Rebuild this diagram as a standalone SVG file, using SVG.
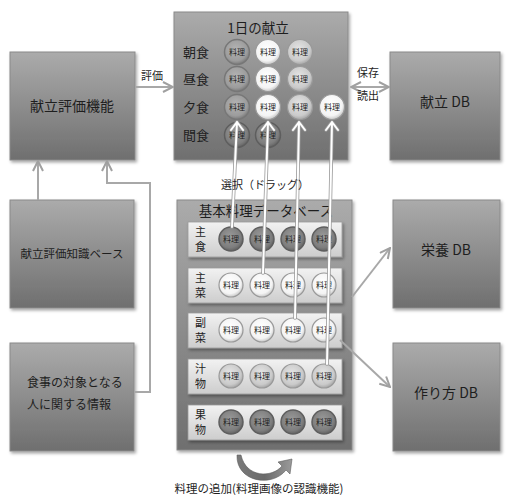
<svg xmlns="http://www.w3.org/2000/svg" width="510" height="495" viewBox="0 0 510 495">
<defs>
<linearGradient id="gBox" x1="0" y1="0" x2="0" y2="1">
<stop offset="0" stop-color="#ababab"/><stop offset="1" stop-color="#6f6f6f"/>
</linearGradient>
<linearGradient id="gRow" x1="0" y1="0" x2="0" y2="1">
<stop offset="0" stop-color="#f2f2f2"/><stop offset="1" stop-color="#cdcdcd"/>
</linearGradient>
<radialGradient id="gWhite" cx="0.45" cy="0.4" r="0.65">
<stop offset="0" stop-color="#ffffff"/><stop offset="0.7" stop-color="#f4f4f4"/><stop offset="1" stop-color="#b8b8b8"/>
</radialGradient>
<radialGradient id="gLight" cx="0.45" cy="0.4" r="0.65">
<stop offset="0" stop-color="#e6e6e6"/><stop offset="0.7" stop-color="#cacaca"/><stop offset="1" stop-color="#9a9a9a"/>
</radialGradient>
<radialGradient id="gMid" cx="0.45" cy="0.4" r="0.65">
<stop offset="0" stop-color="#b4b4b4"/><stop offset="0.7" stop-color="#9c9c9c"/><stop offset="1" stop-color="#6e6e6e"/>
</radialGradient>
<radialGradient id="gDark" cx="0.45" cy="0.4" r="0.65">
<stop offset="0" stop-color="#9a9a9a"/><stop offset="0.7" stop-color="#7e7e7e"/><stop offset="1" stop-color="#5a5a5a"/>
</radialGradient>
<linearGradient id="gCurve" x1="0" y1="0" x2="1" y2="0">
<stop offset="0" stop-color="#7a7a7a"/><stop offset="0.5" stop-color="#6a6a6a"/><stop offset="1" stop-color="#9a9a9a"/>
</linearGradient>
<filter id="sh" x="-10%" y="-10%" width="125%" height="125%">
<feDropShadow dx="1.5" dy="2" stdDeviation="1.5" flood-color="#000" flood-opacity="0.35"/>
</filter>
<marker id="ag" viewBox="0 0 12 12" refX="11" refY="6" markerWidth="12" markerHeight="12" markerUnits="userSpaceOnUse" orient="auto-start-reverse">
<path d="M1,1 L11,6 L1,11" fill="none" stroke="#a0a0a0" stroke-width="2"/>
</marker>
</defs>
<style>
.box{fill:url(#gBox);stroke:#8a8a8a;stroke-width:1;filter:url(#sh)}
.row{fill:url(#gRow);stroke:#9a9a9a;stroke-width:0.8;filter:url(#sh)}
.t{font-family:"Noto Sans CJK JP","Liberation Serif",serif;fill:#1e1e1e}
.bt{font-size:14px;text-anchor:middle}
.lb{font-size:11px}
.ck{font-size:8px;text-anchor:middle;fill:#222}
.cw{fill:url(#gWhite);stroke:#999;stroke-width:1.2}
.cl{fill:url(#gLight);stroke:#999;stroke-width:1.2}
.cm{fill:url(#gMid);stroke:#777;stroke-width:1.5}
.cd{fill:url(#gDark);stroke:#5e5e5e;stroke-width:1.5}
.gc{fill:none;stroke:#a8a8a8;stroke-width:2}
.wl{fill:none;stroke:#fff;stroke-width:2;stroke-linecap:round;stroke-linejoin:round}
.wo{fill:none;stroke:#9a9a9a;stroke-width:3.6;stroke-linecap:round;stroke-linejoin:round}
</style>

<g id="kondate-hyouka">
<rect class="box" x="10" y="52" width="125" height="108"/>
<text class="t bt" x="72" y="111">献立評価機能</text>
</g>
<g id="chishiki">
<rect class="box" x="10" y="200" width="124" height="108"/>
<text class="t bt" x="72" y="258" style="font-size:11.5px">献立評価知識ベース</text>
</g>
<g id="taisho">
<rect class="box" x="10" y="343" width="124" height="108"/>
<text class="t" x="27" y="387" style="font-size:12px">食事の対象となる</text>
<text class="t" x="27" y="409" style="font-size:12px">人に関する情報</text>
</g>

<g id="ichinichi">
<rect class="box" x="174" y="12" width="174" height="148"/>
<text class="t bt" x="258" y="33" style="font-size:13.5px">1日の献立</text>
<text class="t" x="183" y="57" style="font-size:13px">朝食</text>
<text class="t" x="183" y="84" style="font-size:13px">昼食</text>
<text class="t" x="183" y="112" style="font-size:13px">夕食</text>
<text class="t" x="183" y="140" style="font-size:13px">間食</text>
<circle class="cm" cx="237" cy="52" r="12.5"/><circle class="cw" cx="268" cy="52" r="12.5"/><circle class="cl" cx="300" cy="52" r="12.5"/>
<circle class="cm" cx="237" cy="79" r="12.5"/><circle class="cw" cx="268" cy="79" r="12.5"/><circle class="cl" cx="300" cy="79" r="12.5"/>
<circle class="cm" cx="237" cy="107" r="12.5"/><circle class="cw" cx="268" cy="107" r="12.5"/><circle class="cl" cx="300" cy="107" r="12.5"/><circle class="cw" cx="332" cy="107" r="12.5"/>
<circle class="cd" cx="237" cy="135" r="12.5"/><circle class="cd" cx="268" cy="135" r="12.5"/>
<text class="t ck" x="237" y="55">料理</text><text class="t ck" x="268" y="55">料理</text><text class="t ck" x="300" y="55">料理</text>
<text class="t ck" x="237" y="82">料理</text><text class="t ck" x="268" y="82">料理</text><text class="t ck" x="300" y="82">料理</text>
<text class="t ck" x="237" y="110">料理</text><text class="t ck" x="268" y="110">料理</text><text class="t ck" x="300" y="110">料理</text><text class="t ck" x="332" y="110">料理</text>
<text class="t ck" x="237" y="138">料理</text><text class="t ck" x="268" y="138">料理</text>
</g>

<g id="kondate-db">
<rect class="box" x="390" y="52" width="110" height="108"/>
<text class="t bt" x="445" y="107">献立 DB</text>
</g>
<g id="eiyou-db">
<rect class="box" x="393" y="200" width="107" height="108"/>
<text class="t bt" x="446" y="255">栄養 DB</text>
</g>
<g id="tsukurikata-db">
<rect class="box" x="393" y="343" width="107" height="108"/>
<text class="t bt" x="446" y="398">作り方 DB</text>
</g>

<g id="kihon-db">
<rect class="box" x="177" y="200" width="175" height="250"/>
<text class="t bt" x="266" y="216" style="font-size:13.5px">基本料理データベース</text>
<rect class="row" x="188" y="222" width="154" height="35"/>
<rect class="row" x="188" y="268" width="154" height="35"/>
<rect class="row" x="188" y="313" width="154" height="35"/>
<rect class="row" x="188" y="359" width="154" height="35"/>
<rect class="row" x="188" y="405" width="154" height="35"/>
<text class="t lb" x="195" y="236">主</text><text class="t lb" x="195" y="251">食</text>
<text class="t lb" x="195" y="282">主</text><text class="t lb" x="195" y="297">菜</text>
<text class="t lb" x="195" y="327">副</text><text class="t lb" x="195" y="342">菜</text>
<text class="t lb" x="195" y="373">汁</text><text class="t lb" x="195" y="388">物</text>
<text class="t lb" x="195" y="419">果</text><text class="t lb" x="195" y="434">物</text>
<circle class="cd" cx="231" cy="239" r="12"/><circle class="cd" cx="262" cy="239" r="12"/><circle class="cd" cx="293" cy="239" r="12"/><circle class="cd" cx="324" cy="239" r="12"/>
<circle class="cw" cx="231" cy="285" r="12"/><circle class="cw" cx="262" cy="285" r="12"/><circle class="cw" cx="293" cy="285" r="12"/><circle class="cw" cx="324" cy="285" r="12"/>
<circle class="cw" cx="231" cy="330" r="12"/><circle class="cw" cx="262" cy="330" r="12"/><circle class="cw" cx="293" cy="330" r="12"/><circle class="cw" cx="324" cy="330" r="12"/>
<circle class="cl" cx="231" cy="376" r="12"/><circle class="cl" cx="262" cy="376" r="12"/><circle class="cl" cx="293" cy="376" r="12"/><circle class="cl" cx="324" cy="376" r="12"/>
<circle class="cd" cx="231" cy="422" r="12"/><circle class="cd" cx="262" cy="422" r="12"/><circle class="cd" cx="293" cy="422" r="12"/><circle class="cd" cx="324" cy="422" r="12"/>
<text class="t ck" x="231" y="242">料理</text><text class="t ck" x="262" y="242">料理</text><text class="t ck" x="293" y="242">料理</text><text class="t ck" x="324" y="242">料理</text>
<text class="t ck" x="231" y="288">料理</text><text class="t ck" x="262" y="288">料理</text><text class="t ck" x="293" y="288">料理</text><text class="t ck" x="324" y="288">料理</text>
<text class="t ck" x="231" y="333">料理</text><text class="t ck" x="262" y="333">料理</text><text class="t ck" x="293" y="333">料理</text><text class="t ck" x="324" y="333">料理</text>
<text class="t ck" x="231" y="379">料理</text><text class="t ck" x="262" y="379">料理</text><text class="t ck" x="293" y="379">料理</text><text class="t ck" x="324" y="379">料理</text>
<text class="t ck" x="231" y="425">料理</text><text class="t ck" x="262" y="425">料理</text><text class="t ck" x="293" y="425">料理</text><text class="t ck" x="324" y="425">料理</text>
</g>

<g id="connectors">
<line class="gc" x1="135" y1="87" x2="173" y2="87" marker-end="url(#ag)"/>
<line class="gc" x1="351" y1="87" x2="389" y2="87" marker-start="url(#ag)" marker-end="url(#ag)"/>
<line class="gc" x1="38" y1="200" x2="38" y2="161" marker-end="url(#ag)"/>
<polyline class="gc" points="134,392 150,392 150,183 107,183 107,161" marker-end="url(#ag)"/>
<line class="gc" x1="352" y1="297" x2="390" y2="248" marker-end="url(#ag)"/>
<line class="gc" x1="340" y1="340" x2="390" y2="387" marker-end="url(#ag)"/>
<path class="wo" d="M232,227 L237,122 M231,130 L237,122 L243,130"/>
<path class="wl" d="M232,227 L237,122 M231,130 L237,122 L243,130"/>
<path class="wo" d="M263,273 L268,122 M262,130 L268,122 L274,130"/>
<path class="wl" d="M263,273 L268,122 M262,130 L268,122 L274,130"/>
<path class="wo" d="M295,318 L299,122 M293,130 L299,122 L305,130"/>
<path class="wl" d="M295,318 L299,122 M293,130 L299,122 L305,130"/>
<path class="wo" d="M327,364 L332,122 M326,130 L332,122 L338,130"/>
<path class="wl" d="M327,364 L332,122 M326,130 L332,122 L338,130"/>
<path d="M237,455 C236,482 272,488 286,470 L290,474 L292,459 L278,462 L282,466 C272,478 246,478 241,455 Z" fill="url(#gCurve)" stroke="#5e5e5e" stroke-width="0.6"/>
</g>

<text class="t" x="141" y="80" style="font-size:11px">評価</text>
<text class="t" x="357" y="77" style="font-size:11px">保存</text>
<text class="t" x="357" y="100" style="font-size:11px">読出</text>
<text class="t" x="265" y="189" style="font-size:11px;text-anchor:middle">選択（ドラッグ）</text>
<text class="t" x="259" y="493" style="font-size:11.5px;text-anchor:middle">料理の追加(料理画像の認識機能)</text>
</svg>
